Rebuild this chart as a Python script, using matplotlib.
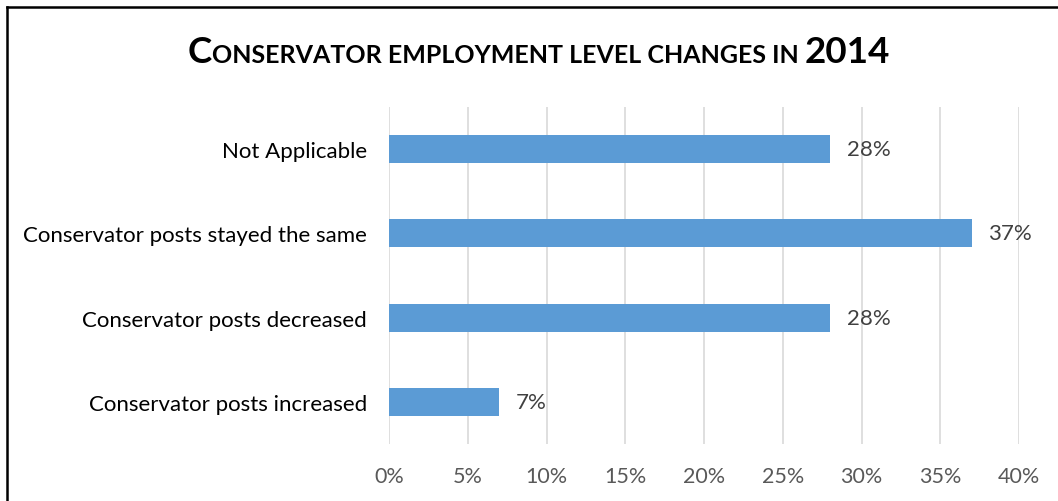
import matplotlib
matplotlib.use("Agg")
import matplotlib.pyplot as plt
from matplotlib.lines import Line2D

categories = [
    "Conservator posts increased",
    "Conservator posts decreased",
    "Conservator posts stayed the same",
    "Not Applicable",
]
values = [7, 28, 37, 28]
x_ticks = [0, 5, 10, 15, 20, 25, 30, 35, 40]
x_tick_labels = ["0%", "5%", "10%", "15%", "20%", "25%", "30%", "35%", "40%"]

title_parts = [("C", 26.5), ("ONSERVATOR EMPLOYMENT LEVEL CHANGES IN ", 18), ("2014", 26.5)]

FONT = "Lato"
W, H = 1058, 502
fig = plt.figure(figsize=(W / 100, H / 100), dpi=100)
fig.patch.set_facecolor("white")

ax = fig.add_axes([389 / W, (H - 445) / H, (1019 - 389) / W, (445 - 108) / H])
ypos = list(range(len(categories)))
ax.barh(ypos, values, height=0.33, color="#5B9BD5", zorder=3)
ax.set_xlim(0, 40)
ax.set_ylim(-0.5, len(categories) - 0.5)
ax.set_xticks(x_ticks)
ax.set_xticklabels(x_tick_labels, fontfamily=FONT, fontsize=15.5, color="#595959")
ax.set_yticks(ypos)
ax.set_yticklabels(categories, fontfamily=FONT, fontsize=16, color="black")
ax.tick_params(axis="x", length=0, pad=16)
ax.tick_params(axis="y", length=0, pad=16)
ax.grid(axis="x", color="#D9D9D9", linewidth=1.2, zorder=0)
for s in ax.spines.values():
    s.set_visible(False)

for y, v in zip(ypos, values):
    ax.annotate(f"{v}%", xy=(v, y), xytext=(12, 0), textcoords="offset points",
                va="center", ha="left", fontfamily=FONT, fontsize=16, color="#404040")

# Frame lines along the left and top edges
fig.add_artist(Line2D([6.5 / W, 6.5 / W], [0, 1 - 7.5 / H], color="black", linewidth=1.8,
                      transform=fig.transFigure))
fig.add_artist(Line2D([6.5 / W, 1], [1 - 7.5 / H, 1 - 7.5 / H], color="black", linewidth=1.8,
                      transform=fig.transFigure))

# Small-caps title assembled from pieces of two sizes
renderer = fig.canvas.get_renderer()
texts = []
for s, size in title_parts:
    t = fig.text(0, 1 - 63 / H, s, fontfamily=FONT, fontweight="bold", fontsize=size,
                 color="black", ha="left", va="baseline")
    texts.append(t)
widths = [t.get_window_extent(renderer).width for t in texts]
total = sum(widths)
x0 = 539 - total / 2
for t, w in zip(texts, widths):
    t.set_x(x0 / W)
    x0 += w

fig.savefig("out.png", dpi=100, facecolor="white")
